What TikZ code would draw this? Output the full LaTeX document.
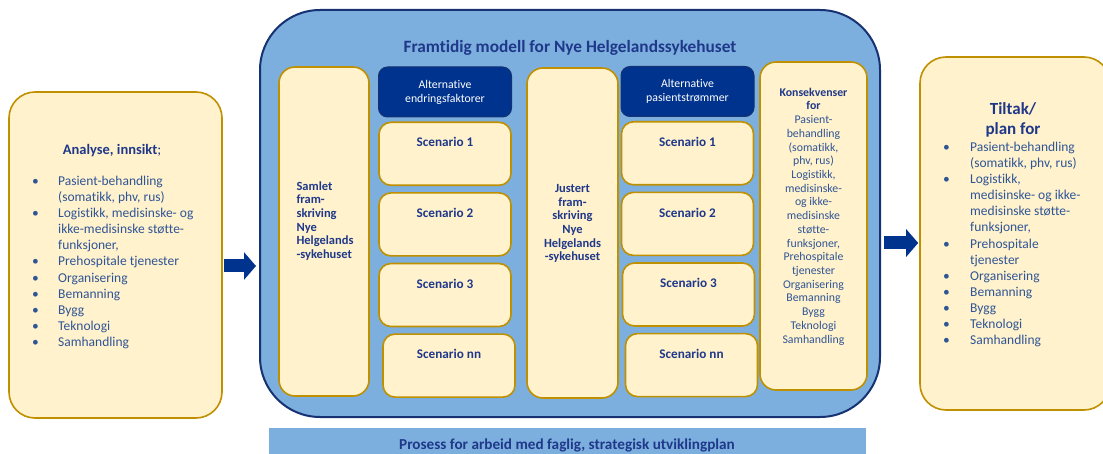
\documentclass[tikz,border=0pt]{standalone}
\usepackage{fontspec}
\setmainfont{Carlito}[Ligatures=NoCommon]
\usetikzlibrary{arrows.meta,positioning}
\definecolor{navy}{RGB}{0,51,141}
\definecolor{rimblue}{RGB}{22,50,115}
\definecolor{skyblue}{RGB}{124,175,222}
\definecolor{creamfill}{RGB}{255,242,204}
\definecolor{gold}{RGB}{191,144,0}
\definecolor{titleblue}{RGB}{31,56,138}
\definecolor{listblue}{RGB}{47,85,151}

\begin{document}
\begin{tikzpicture}[x=1pt,y=-1pt,node distance=6pt]
\tikzstyle{cream}=[rectangle,draw=gold,line width=1.6pt,fill=creamfill,inner sep=0pt]
\tikzstyle{head}=[rectangle,draw=rimblue,line width=1pt,fill=navy,rounded corners=9pt,text=white,align=center,font=\fontsize{11.8}{14}\selectfont,minimum width=133pt,minimum height=50pt]
\tikzstyle{scen}=[cream,rounded corners=12pt,minimum width=132pt,minimum height=63pt]
\tikzstyle{stxt}=[text=titleblue,font=\bfseries\fontsize{13.2}{15}\selectfont,inner sep=0pt,anchor=north]
\tikzstyle{coltxt}=[text=titleblue,font=\bfseries\fontsize{12.5}{13.7}\selectfont,inner sep=0pt]
\tikzstyle{list}=[text=listblue,font=\fontsize{13.5}{16.1}\selectfont,inner sep=0pt,anchor=north west]
\tikzstyle{fat}=[line width=13pt,draw=navy,-{Triangle[length=12pt,width=27pt]}]
\clip (0,0) rectangle (1103,454);

% outer boxes
\node[cream,rounded corners=26pt,minimum width=213pt,minimum height=326pt] (analyse) at (115.5,255) {};
\node[rectangle,draw=rimblue,line width=2pt,fill=skyblue,rounded corners=60pt,minimum width=620pt,minimum height=407pt] (model) at (570,213.5) {};
\node[cream,rounded corners=26pt,minimum width=190pt,minimum height=353pt] (tiltak) at (1015,233.5) {};
\node[rectangle,fill=skyblue,minimum width=597pt,minimum height=34pt,inner sep=0pt] (prosess) at (567.5,445) {};

\node[text=titleblue,font=\bfseries\fontsize{14.5}{17}\selectfont] (analysetitle) at (112,151) {Analyse, innsikt\mdseries;};
\node[list] (analyselist) at (32,174) {\begin{tabular}{@{}p{26pt}@{}l@{}}
\textbullet & Pasient-behandling\\
 & (somatikk, phv, rus)\\
\textbullet & Logistikk, medisinske- og\\
 & ikke-medisinske støtte-\\
 & funksjoner,\\
\textbullet & Prehospitale tjenester\\
\textbullet & Organisering\\
\textbullet & Bemanning\\
\textbullet & Bygg\\
\textbullet & Teknologi\\
\textbullet & Samhandling
\end{tabular}};

\node[text=titleblue,font=\bfseries\fontsize{17.3}{20}\selectfont] (modeltitle) at (570,48) {Framtidig modell for Nye Helgelandssykehuset};

% first column pair
\node[cream,rounded corners=16pt,minimum width=90pt,minimum height=329pt] (samlet) at (324,231.5) {};
\node[coltxt,align=left] (samlettxt) at (325,221) {Samlet\\fram-\\skriving\\Nye\\Helgelands\\-sykehuset};
\node[head] (endring) at (445,92) {Alternative\\endringsfaktorer};
\node[scen,below=4pt of endring] (es1) {};
\node[scen,below=of es1] (es2) {};
\node[scen,below=of es2] (es3) {};
\node[scen,below=of es3,xshift=4pt] (esnn) {};
\node[stxt,below=16pt of es1.north] (es1txt) {Scenario 1};
\node[stxt,below=16pt of es2.north] (es2txt) {Scenario 2};
\node[stxt,below=16pt of es3.north] (es3txt) {Scenario 3};
\node[stxt,below=16pt of esnn.north] (esnntxt) {Scenario nn};

% second column pair
\node[cream,rounded corners=16pt,minimum width=91pt,minimum height=330pt] (justert) at (572.5,233) {};
\node[coltxt,align=center] (justerttxt) at (572.5,223.5) {Justert\\fram-\\skriving\\Nye\\Helgelands\\-sykehuset};
\node[head] (strom) at (687.5,91.5) {Alternative\\pasientstrømmer};
\node[scen,below=4pt of strom] (ps1) {};
\node[scen,below=of ps1] (ps2) {};
\node[scen,below=of ps2,xshift=1pt] (ps3) {};
\node[scen,below=of ps3,xshift=3pt] (psnn) {};
\node[stxt,below=16pt of ps1.north] (ps1txt) {Scenario 1};
\node[stxt,below=16pt of ps2.north] (ps2txt) {Scenario 2};
\node[stxt,below=16pt of ps3.north] (ps3txt) {Scenario 3};
\node[stxt,below=16pt of psnn.north] (psnntxt) {Scenario nn};

\node[cream,rounded corners=16pt,minimum width=107pt,minimum height=328pt] (konsekv) at (813.5,226) {};
\node[text=listblue,font=\fontsize{11.8}{13.72}\selectfont,align=center,inner sep=0pt] (konsekvtxt) at (813.5,216.5) {\textbf{\color{titleblue}Konsekvenser}\\\textbf{\color{titleblue}for}\\Pasient-\\behandling\\(somatikk,\\phv, rus)\\Logistikk,\\medisinske-\\og ikke-\\medisinske\\støtte-\\funksjoner,\\Prehospitale\\tjenester\\Organisering\\Bemanning\\Bygg\\Teknologi\\Samhandling};

\node[text=titleblue,font=\bfseries\fontsize{17}{20}\selectfont,align=center] (tiltaktitle) at (1013,120) {Tiltak/\\plan for};
\node[list] (tiltaklist) at (943,140) {\begin{tabular}{@{}p{27pt}@{}l@{}}
\textbullet & Pasient-behandling\\
 & (somatikk, phv, rus)\\
\textbullet & Logistikk,\\
 & medisinske- og ikke-\\
 & medisinske støtte-\\
 & funksjoner,\\
\textbullet & Prehospitale\\
 & tjenester\\
\textbullet & Organisering\\
\textbullet & Bemanning\\
\textbullet & Bygg\\
\textbullet & Teknologi\\
\textbullet & Samhandling
\end{tabular}};

\node[text=titleblue,font=\bfseries\fontsize{15.2}{18}\selectfont] (prosesstxt) at (567,445) {Prosess for arbeid med faglig, strategisk utviklingplan};

\draw[fat,shorten <=1pt,shorten >=3pt] ([yshift=-11pt]analyse.east) -- ([yshift=-11pt]analyse.east -| model.west);
\draw[fat,shorten <=3pt,shorten >=1pt] ([yshift=-9.5pt]tiltak.west -| model.east) -- ([yshift=-9.5pt]tiltak.west);
\end{tikzpicture}
\end{document}
